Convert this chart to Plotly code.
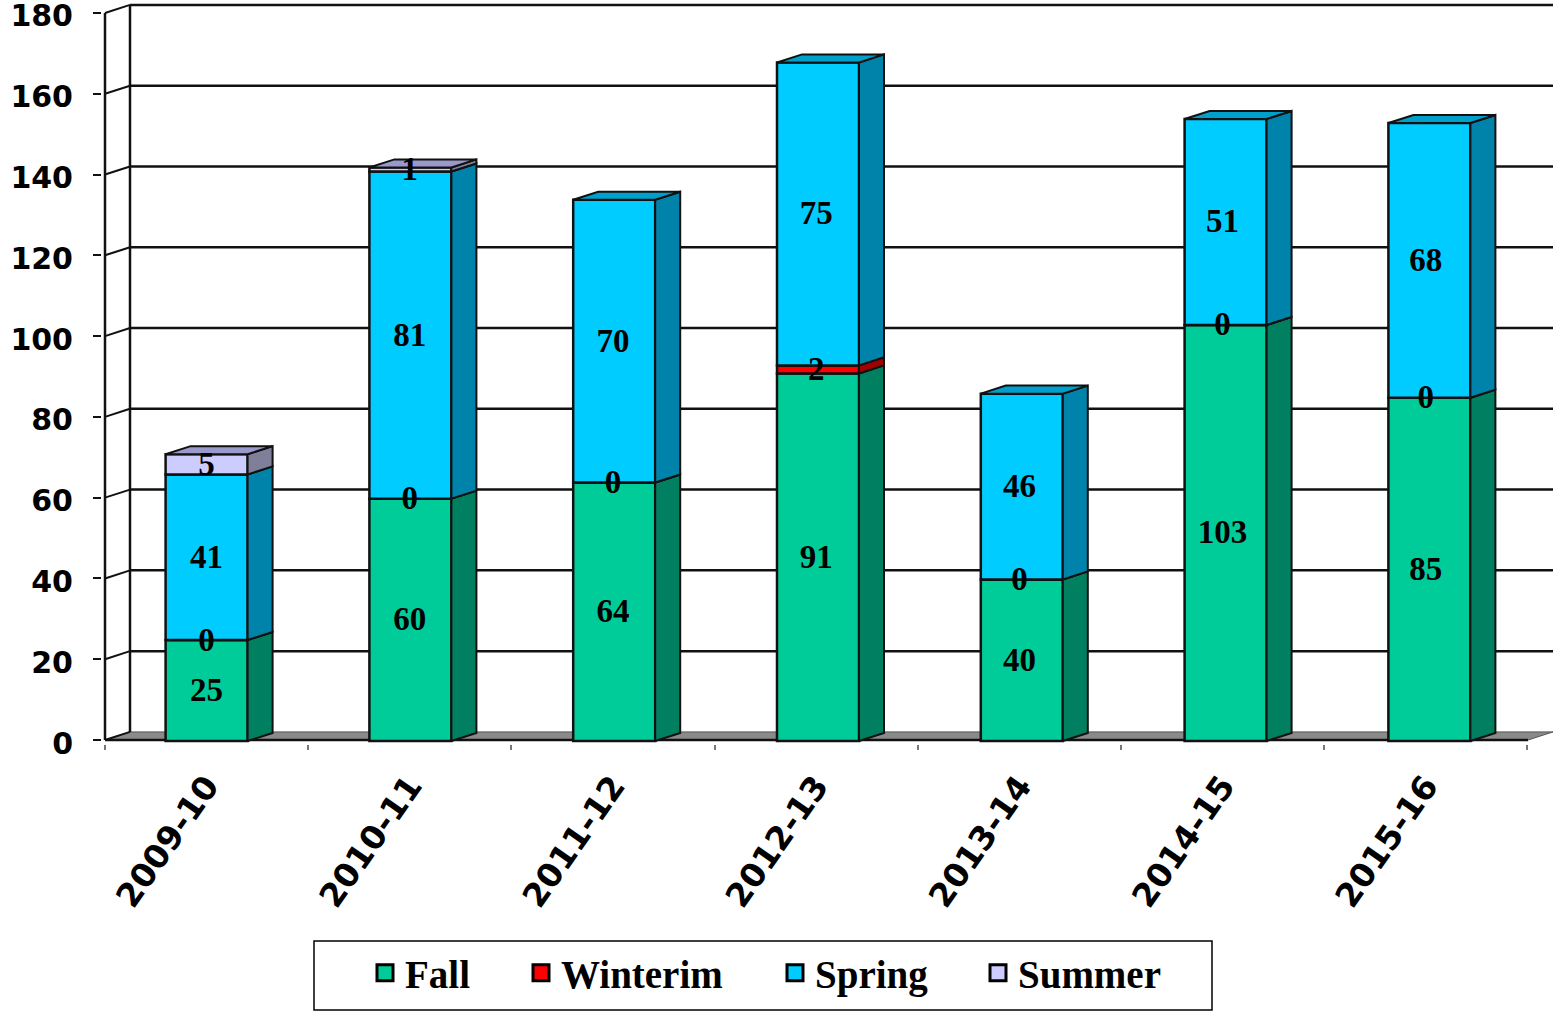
import plotly.graph_objects as go

categories = ["2009-10", "2010-11", "2011-12", "2012-13", "2013-14", "2014-15", "2015-16"]
fall = [25, 60, 64, 91, 40, 103, 85]
winterim = [0, 0, 0, 2, 0, 0, 0]
spring = [41, 81, 70, 75, 46, 51, 68]
summer = [5, 1, None, None, None, None, None]
series_names = ["Fall", "Winterim", "Spring", "Summer"]
series_values = [fall, winterim, spring, summer]
front_colors = ["#00CC99", "#FF0000", "#00CCFF", "#CCCCFF"]
side_colors = ["#008060", "#A00000", "#0083AA", "#807F99"]
top_colors = ["#00A37A", "#CC0000", "#00A0CC", "#9A99CC"]
y_ticks = list(range(0, 181, 20))

W, H = 1553, 1011
L, R_PX, T, B = 105, 1553, 0, 740      # front axis corner and right/top edge, px
PAD_L, PAD_B = 3, 4                    # room so the axis-corner lines are not clipped
UX = 203.2
UY = 4.039
BAR_W = 82 / UX
BAR_STEP = 203.8 / UX
DX = 25 / UX
DY = 2.0
XMIN = -0.5
XMAX = XMIN + (R_PX - L) / UX
YMAX = (B - T) / UY
LINE = "#111111"
BAR_SHIFT = -0.25
LABEL_SHIFT = -0.55

xs = list(range(len(categories)))
bar_x = [i * BAR_STEP for i in xs]
fig = go.Figure()

base = [BAR_SHIFT] * len(categories)
label_x, label_y, label_t = [], [], []
for name, vals, front, side in zip(series_names, series_values, front_colors, side_colors):
    fig.add_bar(x=bar_x, y=vals, base=list(base), width=BAR_W, name=name, showlegend=False, hoverinfo="skip",
                marker=dict(color=front, line=dict(color=LINE, width=2.5)))
    px, py = [], []
    for i, v in enumerate(vals):
        if v is None:
            continue
        xr = bar_x[i] + BAR_W / 2
        y0, y1 = base[i], base[i] + v
        px += [xr, xr + DX, xr + DX, xr, xr, None]
        py += [y0, y0 + DY, y1 + DY, y1, y0, None]
        label_x.append(xs[i])
        label_y.append((y0 + y1) / 2 + LABEL_SHIFT)
        label_t.append(str(v))
        base[i] = y1
    fig.add_scatter(x=px, y=py, mode="lines", fill="toself", fillcolor=side, showlegend=False,
                    hoverinfo="skip", line=dict(color=LINE, width=2))

for s, (vals, col) in enumerate(zip(series_values, top_colors)):
    px, py = [], []
    for i, v in enumerate(vals):
        if v is None:
            continue
        if [sv[i] for sv in series_values[s + 1:] if sv[i] is not None]:
            continue
        xl, xr = bar_x[i] - BAR_W / 2, bar_x[i] + BAR_W / 2
        t = base[i]
        px += [xl, xl + DX, xr + DX, xr, xl, None]
        py += [t, t + DY, t + DY, t, t, None]
    if px:
        fig.add_scatter(x=px, y=py, mode="lines", fill="toself", fillcolor=col, showlegend=False,
                        hoverinfo="skip", line=dict(color=LINE, width=2))

fig.add_scatter(x=label_x, y=label_y, text=label_t, mode="text", showlegend=False, hoverinfo="skip",
                textposition="middle center",
                textfont=dict(family="Liberation Serif", size=33, color="black", weight="bold"))

shapes = []
floor = f"M{XMIN},0 L{XMIN + DX},{DY} L{XMAX},{DY} L{XMAX - DX},0 Z"
shapes.append(dict(type="path", path=floor, fillcolor="#8A8A8A", line=dict(color="#555555", width=1), layer="below"))
shapes.append(dict(type="line", x0=XMIN, x1=XMAX - DX, y0=0, y1=0, line=dict(color=LINE, width=2.5), layer="below"))
shapes.append(dict(type="line", x0=XMIN, x1=XMIN, y0=0, y1=y_ticks[-1], line=dict(color=LINE, width=2.5), layer="below"))
shapes.append(dict(type="line", x0=XMIN + DX, x1=XMIN + DX, y0=DY, y1=y_ticks[-1] + DY, line=dict(color=LINE, width=2.5), layer="below"))
for t in y_ticks:
    shapes.append(dict(type="line", x0=XMIN, x1=XMIN + DX, y0=t, y1=t + DY, line=dict(color=LINE, width=2), layer="below"))
    if t > 0:
        shapes.append(dict(type="line", x0=XMIN + DX, x1=XMAX, y0=t + DY, y1=t + DY, line=dict(color=LINE, width=2.5), layer="below"))

PL, PB = L - PAD_L, B + PAD_B
def px_x(p): return (p - PL) / (R_PX - PL)
def px_y(p): return (PB - p) / (PB - T)

shapes.append(dict(type="rect", xref="paper", yref="paper", x0=px_x(314), x1=px_x(1212), y0=px_y(1010), y1=px_y(941),
                   line=dict(color="black", width=1.5), fillcolor="white"))

legend_px = [365, 521, 775, 978]
legends = {}
for k, (name, col, lx) in enumerate(zip(series_names, front_colors, legend_px)):
    key = "legend" if k == 0 else f"legend{k + 1}"
    legends[key] = dict(x=px_x(lx), y=px_y(973), xanchor="left", yanchor="middle", bgcolor="rgba(0,0,0,0)",
                        borderwidth=0, font=dict(family="Liberation Serif", size=39, color="black", weight="bold"),
                        itemwidth=30, itemclick=False, itemdoubleclick=False)
    fig.add_scatter(x=[None], y=[None], mode="markers", name=name, legend=key, showlegend=True, hoverinfo="skip",
                    marker=dict(symbol="square", size=18, color=col, line=dict(color="black", width=3)))

fig.update_layout(
    width=W, height=H, barmode="overlay", plot_bgcolor="white", paper_bgcolor="white",
    margin=dict(l=PL, r=W - R_PX, t=T, b=H - PB, pad=0, autoexpand=False),
    shapes=shapes,
    **legends,
)
fig.update_xaxes(
    range=[XMIN - PAD_L / UX, XMAX], tickmode="array", tickvals=xs, ticktext=categories, ticks="", tickangle=-55,
    showgrid=False, zeroline=False, showline=False, ticklabeloverflow="allow",
    tickfont=dict(family="DejaVu Sans", size=33, color="black", weight="bold"),
    minor=dict(tickmode="array", tickvals=[i - 0.5 for i in range(len(categories) + 1)], ticks="outside",
               ticklen=5, tickcolor="#777777", tickwidth=1.5, showgrid=False),
    ticklabelstandoff=15,
)
fig.update_yaxes(
    range=[-PAD_B / UY, YMAX], tickmode="array", tickvals=y_ticks, ticks="outside", ticklen=8, tickcolor=LINE, tickwidth=1.5,
    showgrid=False, zeroline=False, showline=False, ticklabeloverflow="allow", ticklabelshift=3,
    tickfont=dict(family="DejaVu Sans", size=30, color="black", weight="bold"),
    ticklabelstandoff=14,
)
fig.write_html("out.html", config=dict(displayModeBar=False),
               post_script="document.body.style.margin='0';document.body.style.overflow='hidden';")
